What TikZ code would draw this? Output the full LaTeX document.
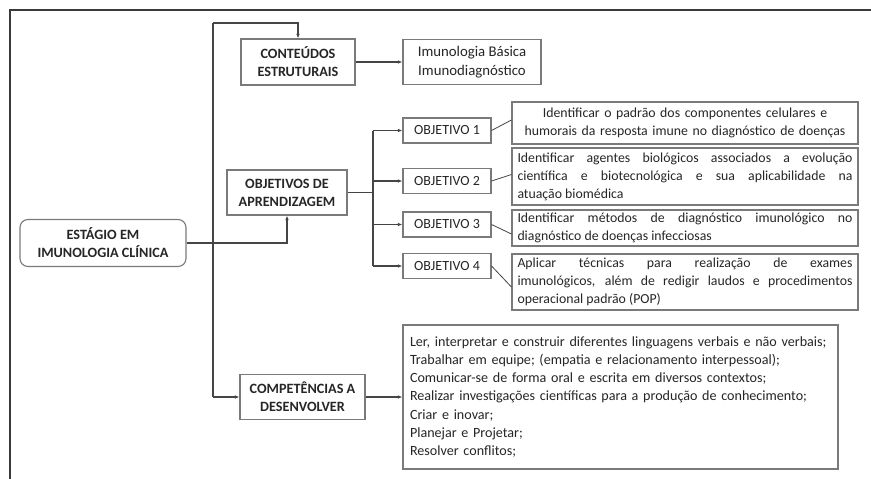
\documentclass[tikz,border=0pt]{standalone}
\usepackage{fontspec}
\setmainfont{Carlito}
\usetikzlibrary{arrows.meta}
\definecolor{linegray}{HTML}{454545}
\definecolor{boxgray}{HTML}{7A7A7A}
\definecolor{txt}{HTML}{262626}
\definecolor{framegray}{HTML}{3A3A3A}
\begin{document}
\begin{tikzpicture}[x=1pt,y=-1pt,
  box/.style={draw=boxgray, line width=1.1pt, inner sep=0pt, align=center, text=txt, fill=white},
  hd/.style={box, font=\fontsize{14.2}{18}\selectfont\bfseries},
  objbox/.style={box, minimum width=88pt, minimum height=25pt, font=\fontsize{14}{18}\selectfont},
  desc/.style={box, minimum width=346pt, text width=335pt, font=\fontsize{13.8}{18}\selectfont},
  conn/.style={draw=linegray, line width=1.1pt},
  arr/.style={conn, -{Latex[length=4.5pt,width=3.5pt]}},
  thin/.style={draw=linegray, line width=0.8pt}]
\useasboundingbox (0,0) rectangle (871,479);
\fill[white] (0,0) rectangle (871,479);
\draw[framegray, line width=1.3pt] (871,10) -- (10,10) -- (10,479);

% main nodes
\node[hd, rounded corners=8pt, minimum width=166pt, minimum height=47pt] (est) at (103,243) {ESTÁGIO EM\\IMUNOLOGIA CLÍNICA};
\node[hd, minimum width=114pt, minimum height=46pt] (cont) at (298,62) {CONTEÚDOS\\ESTRUTURAIS};
\node[box, minimum width=138pt, minimum height=45pt, font=\fontsize{14.8}{18.5}\selectfont] (imu) at (472,62) {Imunologia Básica\\Imunodiagnóstico};
\node[hd, minimum width=120pt, minimum height=45pt] (obj) at (287,192.5) {OBJETIVOS DE\\APRENDIZAGEM};
\node[hd, minimum width=125pt, minimum height=45pt] (comp) at (302.5,397) {COMPETÊNCIAS A\\DESENVOLVER};

% objectives
\node[objbox] (o1) at (447,130.5) {OBJETIVO 1};
\node[objbox] (o2) at (447,181) {OBJETIVO 2};
\node[objbox] (o3) at (447,224.5) {OBJETIVO 3};
\node[objbox] (o4) at (447,266) {OBJETIVO 4};

\node[desc, minimum height=42pt] (d1) at (685,123) {Identificar o padrão dos componentes celulares e\\humorais da resposta imune no diagnóstico de doenças};
\node[desc, minimum height=57pt, align=justify] (d2) at (685,176.5) {Identificar agentes biológicos associados a evolução\linebreak científica e biotecnológica e sua aplicabilidade na\linebreak atuação biomédica};
\node[desc, minimum height=36pt, align=justify] (d3) at (685,228) {Identificar métodos de diagnóstico imunológico no\linebreak diagnóstico de doenças infecciosas};
\node[desc, minimum height=56pt, align=justify] (d4) at (685,282) {Aplicar técnicas para realização de exames\linebreak imunológicos, além de redigir laudos e procedimentos\linebreak operacional padrão (POP)};

\node[box, minimum width=435pt, minimum height=144pt, text width=421pt, align=left, font=\fontsize{14.1}{18.2}\selectfont] (list) at (620.5,397) {Ler, interpretar e construir diferentes linguagens verbais e não verbais;\\
Trabalhar em equipe; (empatia e relacionamento interpessoal);\\
Comunicar-se de forma oral e escrita em diversos contextos;\\
Realizar investigações científicas para a produção de conhecimento;\\
Criar e inovar;\\
Planejar e Projetar;\\
Resolver conflitos;};

% coordinates
\coordinate (tTop) at (213,23);
\coordinate (tBot) at (213,397);
\coordinate (br) at (373,192.5);
\coordinate (bT) at (373,130.5);
\coordinate (bB) at (373,266);

% connectors
\draw[conn] (tTop) -- (tBot);
\draw[arr] (tTop) -| (cont.north);
\draw[arr] (est.east) -| (obj.south);
\draw[arr] (tBot) -- (comp.west);
\draw[arr] (cont.east) -- (imu.west);
\draw[arr] (comp.east) -- (list.west);
\draw[conn] (obj.east) -- (br);
\draw[conn] (bT) -- (bB);
\draw[arr] (bT) -- (o1.west);
\draw[arr] (o2.west -| br) -- (o2.west);
\draw[arr] (o3.west -| br) -- (o3.west);
\draw[arr] (bB) -- (o4.west);
\draw[thin] (o1.east) -- ([yshift=3pt]d1.west);
\draw[thin] (o2.east) -- ([yshift=2pt]d2.west);
\draw[thin] (o3.east) -- ([yshift=-6pt]d3.west);
\draw[thin] (o4.east) -- ([yshift=-5pt]d4.west);
\end{tikzpicture}
\end{document}
